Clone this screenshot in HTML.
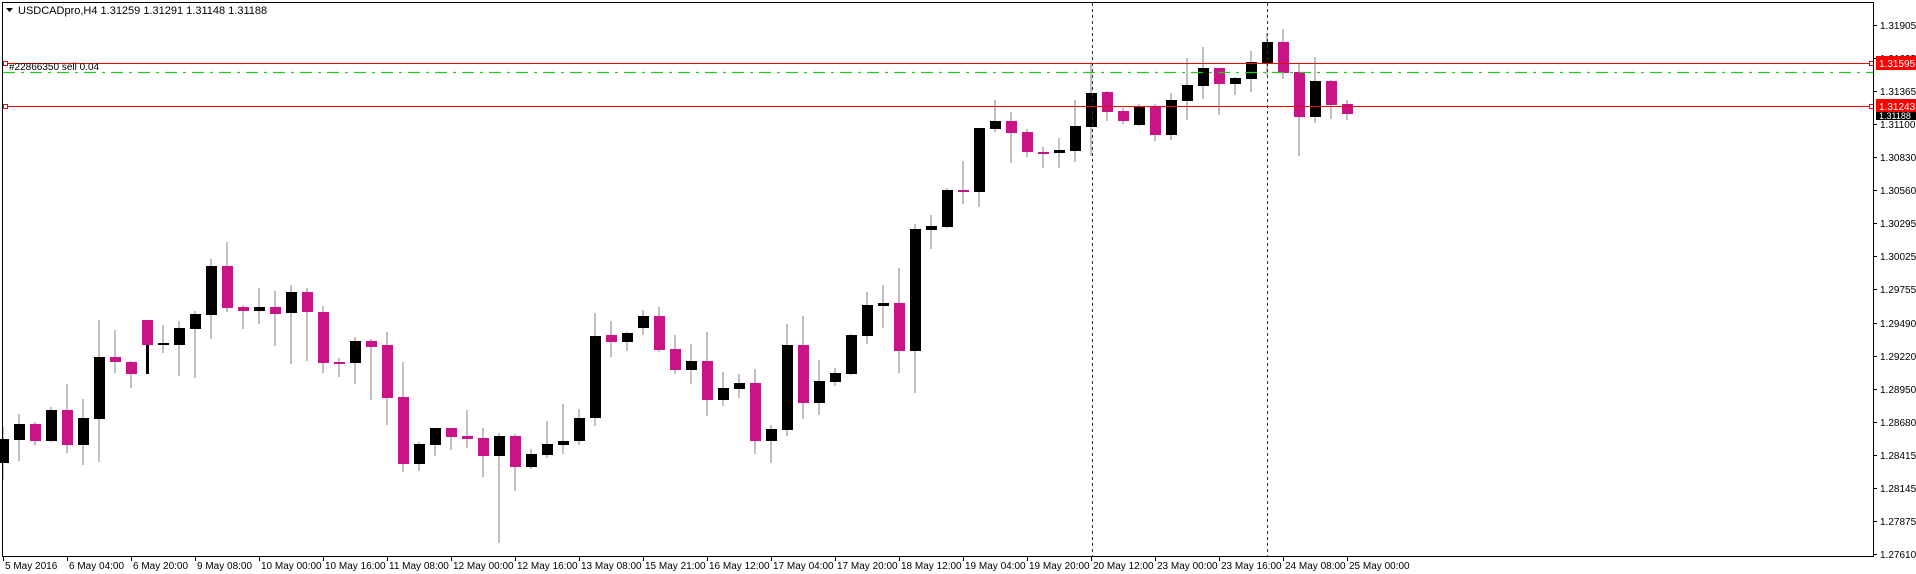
<!DOCTYPE html>
<html><head><meta charset="utf-8"><style>
html,body{margin:0;padding:0;background:#fff;}
svg{display:block;font-family:"Liberation Sans",Tahoma,sans-serif;font-size:10px;}
</style></head><body>
<svg id="s" width="1916" height="574" xmlns="http://www.w3.org/2000/svg">
<rect x="0" y="0" width="1916" height="574" fill="#fff"/>
<g id="wicks"></g><g id="bodies"></g>
<line x1="1092.5" y1="3" x2="1092.5" y2="556" stroke="#333" stroke-dasharray="3,3"/>
<line x1="1267.5" y1="3" x2="1267.5" y2="556" stroke="#333" stroke-dasharray="3,3"/>
<line x1="3" y1="72.5" x2="1873" y2="72.5" stroke="#22cc22" stroke-width="1.2" stroke-dasharray="12,6,3,6"/>
<line x1="3" y1="63.5" x2="1873" y2="63.5" stroke="#ff0000"/>
<line x1="3" y1="106.5" x2="1873" y2="106.5" stroke="#ff0000"/>
<rect x="3.5" y="61.5" width="4" height="4" fill="#fff" stroke="#f00"/>
<rect x="3.5" y="104.5" width="4" height="4" fill="#fff" stroke="#f00"/>
<rect x="1869.5" y="61.5" width="4" height="4" fill="#fff" stroke="#f00"/>
<rect x="1869.5" y="104.5" width="4" height="4" fill="#fff" stroke="#f00"/>
<text x="9" y="70" fill="#000">#22866350 sell 0.04</text>
<polygon points="6,8 13,8 9.5,12" fill="#000"/>
<text x="18" y="14" fill="#000" font-size="11">USDCADpro,H4  1.31259 1.31291 1.31148 1.31188</text>
<rect x="2.5" y="2.5" width="1871" height="554" fill="none" stroke="#000"/>
<g id="axis"></g>
<rect x="1876" y="56" width="40" height="14" fill="#f00"/>
<text x="1879" y="67" fill="#fff">1.31595</text>
<rect x="1876" y="99" width="40" height="14" fill="#f00"/>
<text x="1879" y="110" fill="#fff">1.31243</text>
<rect x="1876" y="112" width="40" height="8" fill="#000"/>
<text x="1879" y="119" fill="#fff" font-size="9">1.31188</text>
</svg>
<script>
var d=[
['b',439,463,427,480],['b',424,440,414,461],['m',424,441,422,445],['b',410,441,407,442],['m',410,445,384,453],
['b',418,445,399,465],['b',357,419,320,462],['m',357,362,330,373],['m',362,374,361,388],['m',320,345,344,374],
['b',343,345,325,353],['b',328,345,321,376],['b',314,329,311,378],['b',266,315,259,339],['m',266,308,242,312],
['m',307,311,305,329],['b',307,311,288,324],['m',307,314,291,346],['b',292,313,285,364],['m',292,312,288,361],
['m',312,363,306,373],['m',362,364,358,377],['b',341,363,337,384],['m',341,347,339,400],['m',345,398,332,425],
['m',397,464,362,472],['b',444,464,442,471],['b',428,445,428,456],['m',428,437,428,450],['m',436,439,410,448],
['m',438,456,428,477],['b',436,456,433,543],['m',436,467,434,491],['b',454,467,449,469],['b',444,455,421,458],
['b',441,445,404,454],['b',418,441,409,445],['b',336,418,313,426],['m',335,342,321,357],['b',333,342,332,351],
['b',316,328,310,335],['m',316,350,307,352],['m',349,370,335,374],['b',361,370,344,384],['m',361,400,332,416],
['b',388,400,372,406],['b',383,389,374,398],['m',383,441,369,454],['b',429,441,425,463],['b',345,430,324,436],
['m',345,403,316,419],['b',381,403,360,415],['b',373,382,368,386],['b',335,374,334,375],['b',305,336,292,344],
['b',303,306,285,328],['m',303,351,268,373],['b',229,351,224,393],['b',226,230,215,249],['b',190,227,188,228],
['m',190,192,161,204],['b',128,192,128,207],['b',121,129,100,132],['m',121,133,112,163],['m',132,152,129,157],
['m',152,153,147,168],['b',150,153,138,168],['b',126,151,100,162],['b',93,127,62,156],['m',92,112,91,121],
['m',111,121,108,124],['b',107,125,104,126],['m',107,135,104,141],['b',100,135,93,140],['b',85,101,58,120],
['b',68,86,47,99],['m',68,84,68,115],['b',78,84,77,95],['b',62,79,51,92],['b',42,63,33,75],
['m',42,73,29,79],['m',72,117,64,156],['b',81,117,57,123],['m',81,105,80,119],['m',104,114,100,120]];
var NS="http://www.w3.org/2000/svg";
function el(p,t,a){var e=document.createElementNS(NS,t);for(var k in a)e.setAttribute(k,a[k]);p.appendChild(e);return e;}
var W=document.getElementById('wicks'),B=document.getElementById('bodies');
d.forEach(function(c,i){
 var x=3+16*i;
 el(W,'rect',{x:x-1,y:c[3],width:2,height:Math.max(c[4]-c[3],1),fill:'#c0c0c0'});
 var col=c[0]=='b'?'#000':'#c71585';
 var h=Math.max(c[2]-c[1],2);
 el(B,'rect',{x:x-5,y:c[1],width:11,height:h,fill:col});
 if(i==9) el(B,'rect',{x:x-1,y:345,width:3,height:29,fill:'#000'});
});
var A=document.getElementById('axis');
var pl=['1.31905','1.31635','1.31365','1.31100','1.30830','1.30560','1.30295','1.30025','1.29755','1.29490','1.29220','1.28950','1.28680','1.28415','1.28145','1.27875','1.27610'];
pl.forEach(function(p,k){var y=Math.round(25+k*33.06);
 el(A,'line',{x1:1873,y1:y+0.5,x2:1877,y2:y+0.5,stroke:'#000'});
 var t=el(A,'text',{x:1880,y:y+4,fill:'#000'});t.textContent=p;});
var tl=['5 May 2016','6 May 04:00','6 May 20:00','9 May 08:00','10 May 00:00','10 May 16:00','11 May 08:00','12 May 00:00','12 May 16:00','13 May 08:00','15 May 21:00','16 May 12:00','17 May 04:00','17 May 20:00','18 May 12:00','19 May 04:00','19 May 20:00','20 May 12:00','23 May 00:00','23 May 16:00','24 May 08:00','25 May 00:00'];
tl.forEach(function(s,k){var x=3+64*k;
 el(A,'line',{x1:x+0.5,y1:556,x2:x+0.5,y2:561,stroke:'#000'});
 var t=el(A,'text',{x:x+2,y:569,fill:'#000'});t.textContent=s;});
</script>
</body></html>
